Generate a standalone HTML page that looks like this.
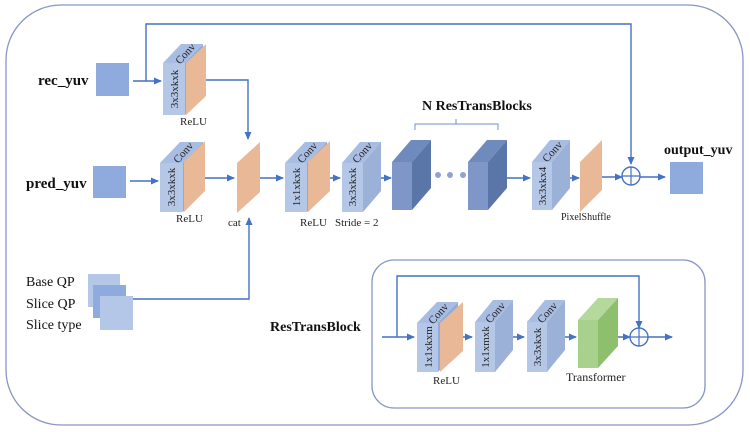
<!DOCTYPE html>
<html><head><meta charset="utf-8"><style>
html,body{margin:0;padding:0;background:#fff;}
svg{display:block;font-family:"Liberation Serif",serif;}
</style></head><body>
<svg width="750" height="432" viewBox="0 0 750 432" xmlns="http://www.w3.org/2000/svg">
<defs>
<marker id="a" markerWidth="8" markerHeight="8" refX="7" refY="4" orient="auto" markerUnits="userSpaceOnUse">
<path d="M0,0.5 L8,4 L0,7.5 z" fill="#4472c4"/></marker>
</defs>
<rect x="6" y="5" width="737" height="420" rx="55" fill="#fff" stroke="#8796c4" stroke-width="1.3"/>
<rect x="372" y="260" width="333" height="148" rx="22" fill="#fff" stroke="#8796c4" stroke-width="1.3"/>

<g stroke="#4472c4" stroke-width="1.4" fill="none">
<!-- top skip -->
<polyline points="146,81 146,24 631,24 631,164" marker-end="url(#a)"/>
<line x1="133" y1="81" x2="161" y2="81" marker-end="url(#a)"/>
<polyline points="205,80 248,80 248,139" marker-end="url(#a)"/>
<line x1="130" y1="181" x2="158" y2="181" marker-end="url(#a)"/>
<line x1="196" y1="178" x2="234" y2="178" marker-end="url(#a)"/>
<line x1="254" y1="178" x2="283" y2="178" marker-end="url(#a)"/>
<line x1="318" y1="178" x2="340" y2="178" marker-end="url(#a)"/>
<line x1="370" y1="178" x2="391" y2="178" marker-end="url(#a)"/>
<line x1="505" y1="178" x2="530" y2="178" marker-end="url(#a)"/>
<line x1="557" y1="178" x2="579" y2="178" marker-end="url(#a)"/>
<line x1="596" y1="177" x2="622" y2="177" marker-end="url(#a)"/>
<line x1="640" y1="177" x2="665" y2="177" marker-end="url(#a)"/>
<polyline points="133,299 249,299 249,218" marker-end="url(#a)"/>
<!-- inner -->
<polyline points="397,337 397,276 639,276 639,328" marker-end="url(#a)"/>
<line x1="382" y1="337" x2="414" y2="337" marker-end="url(#a)"/>
<line x1="452" y1="337" x2="472" y2="337" marker-end="url(#a)"/>
<line x1="503" y1="337" x2="524" y2="337" marker-end="url(#a)"/>
<line x1="555" y1="337" x2="576" y2="337" marker-end="url(#a)"/>
<line x1="608" y1="337" x2="630" y2="337" marker-end="url(#a)"/>
<line x1="648" y1="337" x2="672" y2="337" marker-end="url(#a)"/>
<!-- brace -->
<path d="M415,130 L415,124 L456,124 L456,119 M456,124 L498,124 L498,130" stroke="#6f8fc8" stroke-width="1"/>
</g>
<circle cx="631" cy="176" r="9" fill="#fff" stroke="#4472c4" stroke-width="1.4"/>
<path d="M622,176 H640 M631,167 V185" stroke="#4472c4" stroke-width="1.2"/>
<circle cx="639" cy="337" r="9" fill="#fff" stroke="#4472c4" stroke-width="1.4"/>
<path d="M630,337 H648 M639,328 V346" stroke="#4472c4" stroke-width="1.2"/>

<!-- squares -->
<rect x="96" y="63" width="33" height="33" fill="#8faadc"/>
<rect x="93" y="166" width="33" height="32" fill="#8faadc"/>
<rect x="670" y="162" width="33" height="32" fill="#8faadc"/>
<rect x="88" y="274" width="32" height="33" fill="#b4c7e7"/>
<rect x="93" y="285" width="33" height="33" fill="#8faadc"/>
<rect x="100" y="296" width="33" height="34" fill="#b4c7e7"/>

<!-- conv blocks: front, top, side -->
<g id="convs">
<!-- conv1 -->
<polygon points="163,63 185,63 203,44 181,44" fill="#a9bde2"/>
<polygon points="185,63 203,44 203,96 185,115" fill="#8faadc"/>
<rect x="163" y="63" width="22" height="52" fill="#b4c7e7"/>
<polygon points="186,115 186,63 206,44 206,96" fill="#e9b896"/>
<!-- pred conv -->
<polygon points="160,163 183,163 203,142 180,142" fill="#a9bde2"/>
<polygon points="183,163 203,142 203,191 183,212" fill="#8faadc"/>
<rect x="160" y="163" width="23" height="49" fill="#b4c7e7"/>
<polygon points="184,212 184,162 205,141 205,191" fill="#e9b896"/>
<!-- cat -->
<polygon points="237,213 237,163 260,142 260,192" fill="#e9b896"/>
<!-- 1x1 -->
<polygon points="285,163 307,163 327,142 305,142" fill="#a9bde2"/>
<polygon points="307,163 327,142 327,191 307,212" fill="#8faadc"/>
<rect x="285" y="163" width="22" height="49" fill="#b4c7e7"/>
<polygon points="308,212 308,162 330,141 330,191" fill="#e9b896"/>
<!-- stride -->
<polygon points="342,163 363,163 381,142 360,142" fill="#a9bde2"/>
<polygon points="363,163 381,142 381,191 363,212" fill="#9bb1d8"/>
<rect x="342" y="163" width="21" height="49" fill="#b4c7e7"/>
<!-- dark blocks -->
<polygon points="392,162 412,162 431,140 411,140" fill="#6f8abd"/>
<polygon points="412,162 431,140 431,188 412,210" fill="#5a76a8"/>
<rect x="392" y="162" width="20" height="48" fill="#7f97c8"/>
<polygon points="468,162 488,162 507,140 487,140" fill="#6f8abd"/>
<polygon points="488,162 507,140 507,188 488,210" fill="#5a76a8"/>
<rect x="468" y="162" width="20" height="48" fill="#7f97c8"/>
<circle cx="438" cy="175" r="3" fill="#8fa3cf"/>
<circle cx="450" cy="175" r="3" fill="#8fa3cf"/>
<circle cx="463" cy="175" r="3" fill="#8fa3cf"/>
<!-- conv x4 -->
<polygon points="532,162 552,162 570,140 550,140" fill="#a9bde2"/>
<polygon points="552,162 570,140 570,188 552,210" fill="#9bb1d8"/>
<rect x="532" y="162" width="20" height="48" fill="#b4c7e7"/>
<polygon points="580,212 580,162 602,140 602,190" fill="#e9b896"/>
<!-- inner -->
<polygon points="417,323 438,323 458,302 437,302" fill="#a9bde2"/>
<polygon points="438,323 458,302 458,351 438,372" fill="#8faadc"/>
<rect x="417" y="323" width="21" height="49" fill="#b4c7e7"/>
<polygon points="440,372 440,323 463,302 463,351" fill="#e9b896"/>
<polygon points="475,322 495,322 513,300 493,300" fill="#a9bde2"/>
<polygon points="495,322 513,300 513,350 495,372" fill="#9bb1d8"/>
<rect x="475" y="322" width="20" height="50" fill="#b4c7e7"/>
<polygon points="527,322 547,322 565,300 545,300" fill="#a9bde2"/>
<polygon points="547,322 565,300 565,350 547,372" fill="#9bb1d8"/>
<rect x="527" y="322" width="20" height="50" fill="#b4c7e7"/>
<polygon points="578,320 598,320 618,298 598,298" fill="#b5d99c"/>
<polygon points="598,320 618,298 618,346 598,368" fill="#8dbf6d"/>
<rect x="578" y="320" width="20" height="48" fill="#a9d18e"/>
</g>

<!-- block texts -->
<g font-size="11" fill="#222" text-anchor="middle">
<text transform="translate(178,89) rotate(-90)">3x3xkxk</text>
<text transform="translate(188,56) rotate(-48)">Conv</text>
<text transform="translate(175,187) rotate(-90)">3x3xkxk</text>
<text transform="translate(186,155) rotate(-48)">Conv</text>
<text transform="translate(300,187) rotate(-90)">1x1xkxk</text>
<text transform="translate(310,155) rotate(-48)">Conv</text>
<text transform="translate(356,187) rotate(-90)">3x3xkxk</text>
<text transform="translate(365,155) rotate(-48)">Conv</text>
<text transform="translate(546,186) rotate(-90)">3x3xkx4</text>
<text transform="translate(555,154) rotate(-48)">Conv</text>
<text transform="translate(432,347) rotate(-90)">1x1xkxm</text>
<text transform="translate(441,316) rotate(-48)">Conv</text>
<text transform="translate(489,347) rotate(-90)">1x1xmxk</text>
<text transform="translate(498,315) rotate(-48)">Conv</text>
<text transform="translate(541,347) rotate(-90)">3x3xkxk</text>
<text transform="translate(550,315) rotate(-48)">Conv</text>
</g>
<g font-size="11" fill="#222">
<text x="180" y="125">ReLU</text>
<text x="176" y="222">ReLU</text>
<text x="228" y="226">cat</text>
<text x="300" y="226">ReLU</text>
<text x="335" y="226">Stride = 2</text>
<text x="561" y="220" font-size="10">PixelShuffle</text>
<text x="433" y="384">ReLU</text>
<text x="566" y="381" font-size="12">Transformer</text>
</g>
<g font-size="14" fill="#111">
<text x="26" y="286">Base QP</text>
<text x="26" y="308">Slice QP</text>
<text x="26" y="329">Slice type</text>
</g>
<g font-weight="bold" fill="#111">
<text x="38" y="85" font-size="15">rec_yuv</text>
<text x="26" y="188" font-size="15">pred_yuv</text>
<text x="664" y="154" font-size="14">output_yuv</text>
<text x="422" y="110" font-size="14">N ResTransBlocks</text>
<text x="270" y="331" font-size="14">ResTransBlock</text>
</g>
</svg>
</body></html>
